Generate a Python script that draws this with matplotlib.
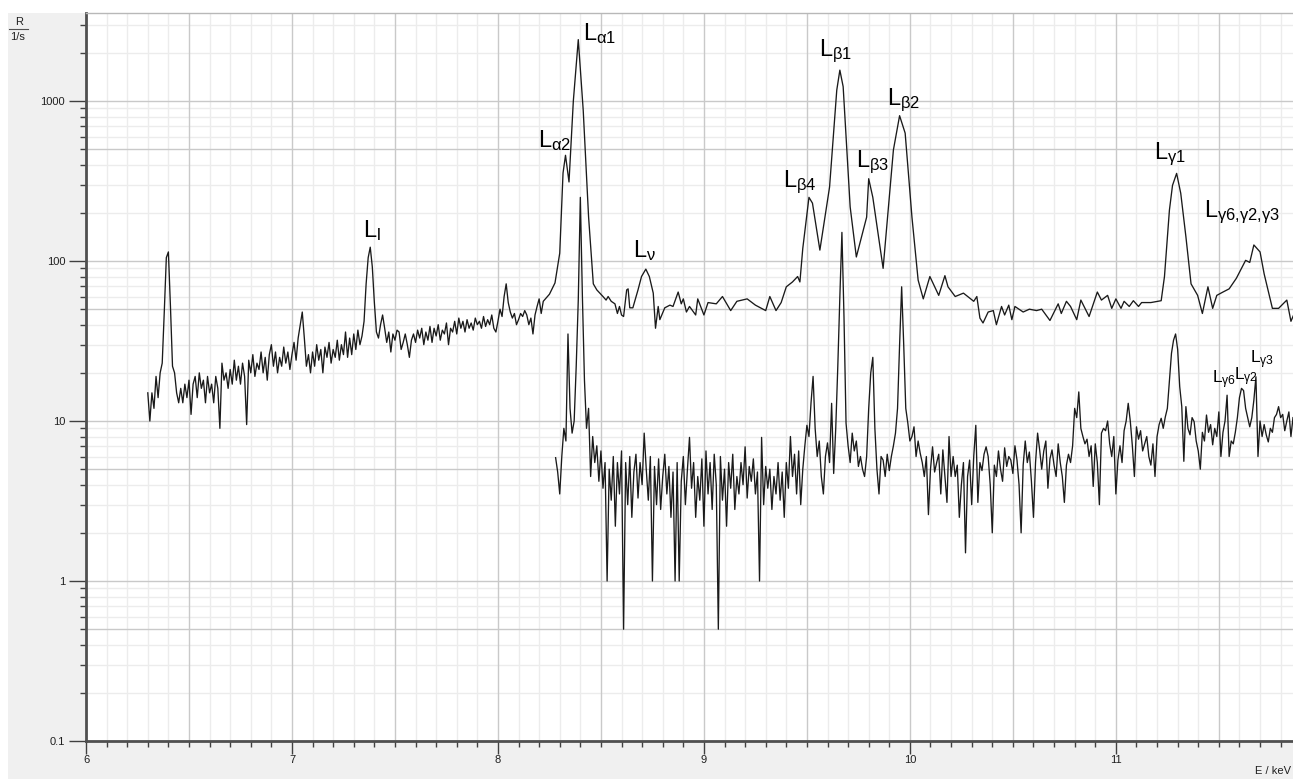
import numpy as np
import matplotlib
matplotlib.use('Agg')
import matplotlib.pyplot as plt
from matplotlib.ticker import FixedLocator, MultipleLocator, NullFormatter, FixedFormatter
from matplotlib.patches import Rectangle
from matplotlib.lines import Line2D

plt.rcParams['font.family'] = ['Liberation Sans', 'DejaVu Sans']
plt.rcParams['mathtext.default'] = 'regular'

# ---------------- data ----------------
# upper spectrum, dense part (start energy, channel width in keV)
upper_dense_start = 6.30
upper_dense_step = 0.01
upper_dense_R = [
    15, 10, 15, 12, 19, 14, 20, 23, 48, 105,
    114, 52, 22, 20, 15, 13, 16, 13, 17, 14,
    18, 11, 17, 19, 14, 20, 16, 18, 13, 19,
    15, 17, 13, 19, 16, 9, 23, 18, 20, 16,
    21, 17, 24, 18, 22, 17, 23, 19, 9.5, 24,
    20, 26, 19, 23, 21, 27, 20, 25, 18, 26,
    30, 22, 27, 20, 25, 22, 29, 23, 27, 21,
    26, 31, 24, 33, 40, 48, 33, 22, 26, 20,
    27, 22, 30, 24, 28, 20, 29, 25, 31, 23,
    28, 25, 32, 24, 30, 26, 36, 25, 33, 26,
    35, 28, 37, 30, 34, 42, 72, 105, 122, 92,
    55, 36, 33, 40, 46, 38, 31, 36, 27, 35,
    32, 37, 36, 28, 31, 35, 30, 25, 32, 35,
    31, 37, 33, 38, 30, 36, 32, 39, 31, 38,
    34, 40, 32, 37, 35, 41, 30, 38, 36, 42,
    35, 44, 38, 42, 36, 43, 38, 41, 37, 44,
    40, 42, 38, 45, 39, 43, 40, 46, 38, 36,
    42, 50, 45, 60, 72, 55, 48, 44, 47, 40,
    43, 47, 45, 49, 46, 40, 44, 35, 46, 52,
    58, 47, 56,
]

# upper spectrum, coarser part
upper_E = [
    8.25, 8.277, 8.30, 8.316, 8.328, 8.345, 8.366, 8.39, 8.414, 8.44,
    8.463, 8.48, 8.495, 8.51, 8.525, 8.535, 8.55, 8.568, 8.58, 8.59,
    8.60, 8.61, 8.625, 8.632, 8.64, 8.655, 8.68, 8.697, 8.718, 8.735,
    8.754, 8.765, 8.778, 8.786, 8.81, 8.835, 8.85, 8.875, 8.89, 8.90,
    8.915, 8.93, 8.96, 8.97, 9.00, 9.02, 9.06, 9.09, 9.13, 9.16,
    9.21, 9.25, 9.30, 9.32, 9.35, 9.375, 9.40, 9.43, 9.455, 9.466,
    9.48, 9.51, 9.527, 9.563, 9.61, 9.645, 9.66, 9.676, 9.71, 9.74,
    9.79, 9.80, 9.82, 9.87, 9.92, 9.95, 9.977, 10.01, 10.04, 10.065,
    10.097, 10.14, 10.17, 10.185, 10.22, 10.26, 10.31, 10.325, 10.34, 10.355,
    10.38, 10.405, 10.42, 10.445, 10.46, 10.48, 10.495, 10.51, 10.55, 10.58,
    10.615, 10.64, 10.68, 10.72, 10.735, 10.76, 10.78, 10.81, 10.83, 10.87,
    10.91, 10.93, 10.96, 10.98, 11.00, 11.025, 11.04, 11.065, 11.085, 11.11,
    11.125, 11.17, 11.22, 11.236, 11.26, 11.275, 11.295, 11.315, 11.34, 11.365,
    11.397, 11.42, 11.447, 11.47, 11.49, 11.52, 11.55, 11.585, 11.63, 11.65,
    11.67, 11.70, 11.72, 11.76, 11.79, 11.83, 11.85, 11.89,
]
upper_R = [
    62, 73, 112, 355, 458, 312, 1000, 2420, 875, 189,
    72, 66, 63, 60, 57, 60, 56, 54, 47, 52,
    46, 45, 66, 67, 51, 51, 66, 80, 89, 80,
    63, 38, 52, 43, 51, 53, 52, 64, 54, 58,
    48, 52, 46, 58, 46, 55, 54, 60, 49, 56,
    58, 53, 49, 60, 49, 55, 69, 74, 80, 74,
    120, 250, 230, 117, 290, 1170, 1560, 1230, 218, 106,
    188, 327, 250, 90, 495, 810, 630, 188, 76, 58,
    80, 61, 81, 69, 60, 63, 56, 60, 44, 41,
    48, 49, 40, 52, 46, 53, 43, 52, 48, 50,
    49, 50, 42.5, 54, 47, 56, 52, 43, 57, 45,
    64, 57, 61, 50.6, 58, 50.6, 56, 52, 56.5, 52,
    55, 55, 56.5, 80, 208, 297, 353, 265, 142, 72,
    61, 47, 69, 50.6, 61, 64, 67, 78, 101, 98,
    126, 114, 83, 50.6, 50.6, 57, 42, 55.5,
]

# lower spectrum (channel width 0.01 keV), three consecutive pieces
lower_step = 0.01
lower_a_start = 8.28
lower_a_R = [
    5.9, 4.8, 3.5, 6.0, 9.0, 7.5, 35, 12, 8.4, 10,
    22, 57, 250, 60, 18, 9, 12, 4.5, 8, 5.5,
    7, 4.2, 6.5, 3.8, 5.5, 1.0, 5, 3.2, 6, 2.2,
    5.5, 3.5, 6.5, 0.5, 5.5, 3, 6, 2.5, 4.8, 6.2,
    3.3, 5.5, 4, 8.4, 5, 3.2, 6, 1.0, 5.2, 3,
    5.8, 2.8, 4.5, 6.2, 3.5, 5.2, 2.5, 4.8, 1.0, 5.5,
    1.0, 4.2, 6, 3, 5, 7.9, 3.8, 5.5, 2.5, 4.5,
    3.2, 5.8, 2.2, 6.5, 3.5, 5.5, 2.8, 6.2, 4, 0.5,
    6, 3.2, 5, 2.2, 5.5, 3.8, 6.2, 2.8, 4.5, 3.5,
    5.5, 4, 6.9, 3.3, 5.2, 4.2, 5.8, 3.5, 4.8, 1.0,
    7.9, 3, 5.2, 3.8, 5, 2.8, 4.5, 3.5, 5.5, 3.2,
    4.8, 2.5, 5.5, 3.8, 8, 4.5, 6.2, 3.5, 6.5, 3,
    5,
]
lower_b_start = 9.49
lower_b_R = [
    7, 9.4, 8, 13, 19, 9, 6, 7.5, 4.5, 3.5,
    6, 7.3, 5.5, 12.9, 4.7, 9, 22, 60, 151, 45,
    9.7, 7, 5.5, 8.4, 6.5, 7.5, 5.2, 6, 5, 4.5,
    6, 12, 20, 25, 9, 5, 3.5, 6, 5.7, 4.5,
    6.2, 4.9, 6, 7, 8.4, 12, 30, 69, 30, 12,
    9.7, 7.5, 8, 9.2, 6, 7.5,
]
lower_c_start = 10.05
lower_c_R = [
    6.3, 5.5, 4.5, 6, 2.6, 5, 6.9, 4.8, 5.5, 6.2,
    3.5, 6.6, 4.5, 3.1, 8, 4.5, 6, 4.5, 5.3, 2.5,
    4, 5.5, 1.5, 4.5, 5.7, 3, 6, 9.4, 3.1, 5.5,
    4.9, 6.2, 6.9, 6, 4, 2.0, 5.3, 4.5, 6.5, 5,
    4.2, 6.8, 5.2, 6, 5.7, 4.7, 7, 5.7, 4, 2.0,
    5.3, 7.5, 5.5, 6.4, 4.2, 2.5, 5.5, 8.4, 6.6, 5,
    6.5, 7.5, 3.8, 5.8, 6.6, 5.3, 4.5, 7.2, 5.5, 4.5,
    3.1, 5.3, 6.2, 5.5, 7, 12, 10.5, 15.2, 9, 8,
    7.2, 7.7, 6, 7, 3.9, 7.2, 5.5, 3.0, 8.4, 9,
    8.7, 10, 7.2, 6, 8, 3.5, 5.7, 7, 5.5, 8.7,
    10, 12.9, 10, 7, 4.5, 9.2, 7.7, 8.7, 6.5, 7.2,
    8, 6, 5.3, 7.2, 4.5, 8, 9.5, 10.4, 9, 10.6,
    12, 18, 26.5, 32, 35, 28, 16.4, 12.3, 5.6, 12.3,
    9, 8.2, 10.5, 9.9, 7.5, 6.5, 5, 8.5, 7.5, 10.9,
    8.5, 9.5, 7.1, 9, 8, 11.4, 6, 8.5, 10, 14.5,
    6, 7.5, 7.2, 8.5, 10.5, 14, 16, 15.5, 12, 10.5,
    9.2, 10.5, 13.5, 18.9, 6, 10, 8, 9.5, 8.2, 7.4,
    9, 8.5, 10.5, 11, 12.3, 10.5, 11, 8.7, 10, 11.4,
    8, 10.5,
]

# peak labels: (text, energy, rate, fontsize)
label_texts = [r'L$_{l}$', r'L$_{α2}$', r'L$_{α1}$', r'L$_{ν}$', r'L$_{β4}$',
               r'L$_{β1}$', r'L$_{β3}$', r'L$_{β2}$', r'L$_{γ1}$',
               r'L$_{γ6{,}γ2{,}γ3}$', r'L$_{γ6}$', r'L$_{γ2}$', r'L$_{γ3}$']
label_E = [7.343, 8.193, 8.413, 8.657, 9.385, 9.56, 9.738, 9.887, 11.186,
           11.427, 11.467, 11.573, 11.65]
label_R = [142, 518, 2405, 106, 291, 1910, 385, 944, 432, 187, 17.2, 18.0, 23.1]
label_size = [17, 17, 17, 17, 17, 17, 17, 17, 17, 17, 12.5, 12.5, 12.5]

x_ticks = [6, 7, 8, 9, 10, 11]
y_ticks = [0.1, 1, 10, 100, 1000]
y_ticklabels = ['0.1', '1', '10', '100', '1000']

# ---------------- build series ----------------
upper_dense_E = upper_dense_start + upper_dense_step * np.arange(len(upper_dense_R))
up_E = np.concatenate([upper_dense_E, np.array(upper_E)])
up_R = np.concatenate([np.array(upper_dense_R, float), np.array(upper_R, float)])

lo_E = np.concatenate([
    lower_a_start + lower_step * np.arange(len(lower_a_R)),
    lower_b_start + lower_step * np.arange(len(lower_b_R)),
    lower_c_start + lower_step * np.arange(len(lower_c_R)),
])
lo_R = np.array(lower_a_R + lower_b_R + lower_c_R, float)

# ---------------- figure ----------------
W, H = 1293, 779
fig = plt.figure(figsize=(W / 100, H / 100), dpi=100, facecolor='white')
fig.patches.append(Rectangle((8 / W, 0), 1 - 8 / W, (H - 13) / H, transform=fig.transFigure,
                             facecolor='#f0f0f0', edgecolor='none', zorder=-10))

ax = fig.add_axes([86 / W, 38 / H, (W - 86) / W, (741 - 13) / H])
ax.set_zorder(1)
ax.set_facecolor('white')
ax.set_yscale('log')
ax.set_xlim(6, 11.86)
ax.set_ylim(0.1, 3550)

# grid
for xv in np.arange(6.0, 11.9, 0.1):
    xr = round(xv, 1)
    if abs(xr * 2 - round(xr * 2)) < 1e-6:
        ax.axvline(xr, color='#c9c9c9', lw=1.0, zorder=0.6)
    else:
        ax.axvline(xr, color='#ececec', lw=1.0, zorder=0.5)
for dec in [0.1, 1, 10, 100, 1000]:
    for m in range(1, 10):
        yv = dec * m
        if yv > 3550:
            continue
        if m in (1, 5):
            ax.axhline(yv, color='#c9c9c9', lw=1.0, zorder=0.6)
        else:
            ax.axhline(yv, color='#ececec', lw=1.0, zorder=0.5)

ax.plot(up_E, up_R, color='#1a1a1a', lw=0.95, zorder=3)
ax.plot(lo_E, lo_R, color='#1a1a1a', lw=0.95, zorder=3)

for t, e, r, s in zip(label_texts, label_E, label_R, label_size):
    ax.text(e, r, t, fontsize=s, ha='left', va='baseline', color='black', zorder=4)

# ticks
ax.xaxis.set_major_locator(FixedLocator(x_ticks))
ax.xaxis.set_minor_locator(MultipleLocator(0.1))
ax.yaxis.set_major_locator(FixedLocator(y_ticks))
ax.yaxis.set_major_formatter(FixedFormatter(y_ticklabels))
ax.yaxis.set_minor_locator(FixedLocator([d * m for d in [0.1, 1, 10, 100, 1000]
                                         for m in range(2, 10) if d * m < 3550]))
ax.yaxis.set_minor_formatter(NullFormatter())
ax.tick_params(axis='both', which='major', direction='out', length=12, width=1,
               color='#404040', labelsize=8, pad=3, labelcolor='#202020')
ax.tick_params(axis='both', which='minor', direction='out', length=4, width=1, color='#404040')
ax.tick_params(axis='x', which='major', length=9, pad=1)

for side in ['left', 'bottom']:
    ax.spines[side].set_color('#505050')
    ax.spines[side].set_linewidth(2)
ax.spines['top'].set_color('#b8b8b8')
ax.spines['top'].set_linewidth(1)
ax.spines['right'].set_visible(False)

# axis captions
fig.text(19 / W, 1 - 22 / H, 'R', fontsize=8, ha='center', va='center', color='#202020')
fig.add_artist(Line2D([9 / W, 28 / W], [1 - 29 / H, 1 - 29 / H], color='#505050', lw=0.8))
fig.text(18 / W, 1 - 37 / H, '1/s', fontsize=8, ha='center', va='center', color='#202020')
fig.text(1291 / W, 1 - 771 / H, 'E / keV', fontsize=8, ha='right', va='center', color='#202020')

fig.savefig('out.png', dpi=100, facecolor=fig.get_facecolor())
